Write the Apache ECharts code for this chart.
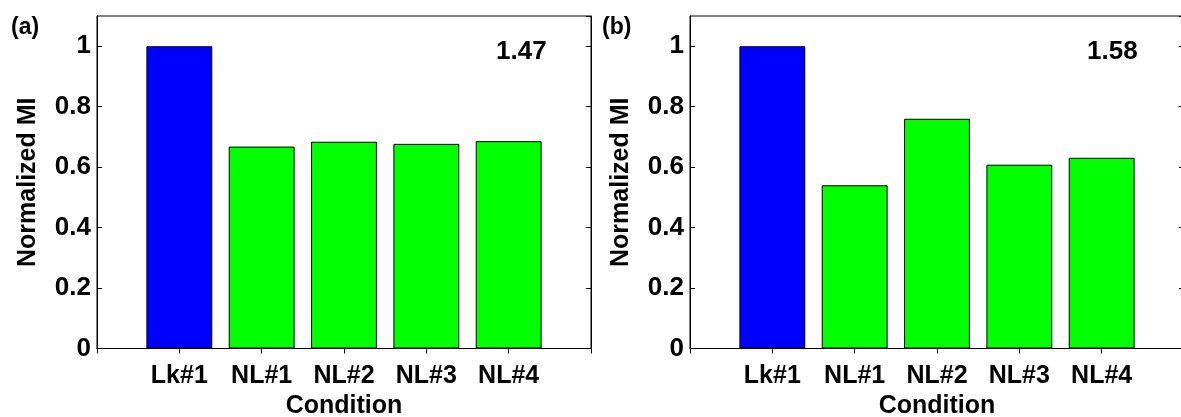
<!DOCTYPE html>
<html><head><meta charset="utf-8">
<script src="https://cdn.jsdelivr.net/npm/echarts@6/dist/echarts.min.js"></script>
<style>html,body{margin:0;padding:0;background:#fff}#c{width:1181px;height:417px}</style>
</head><body><div id="c"></div>
<script>
// ---- data ----
const categories = ['Lk#1', 'NL#1', 'NL#2', 'NL#3', 'NL#4'];
const valuesA = [1.0, 0.668, 0.684, 0.677, 0.686];
const valuesB = [1.0, 0.540, 0.760, 0.608, 0.631];
const barColors = ['#0000ff', '#00ff00', '#00ff00', '#00ff00', '#00ff00'];
const panelLabels = ['(a)', '(b)'];
const panelNotes = ['1.47', '1.58'];
const yMin = 0, yMax = 1.1, yStep = 0.2;
const yName = 'Normalized MI';
const xName = 'Condition';

// ---- chart ----
const FONT = '"Liberation Sans", Arial, Helvetica, sans-serif';
const axisData = [''].concat(categories, ['']);
function seriesData(vals) {
  return ['-'].concat(vals.map((v, i) => ({ value: v, itemStyle: { color: barColors[i] } })), ['-']);
}
const grids = [
  { left: 97, top: 16, width: 494, height: 332.5 },
  { left: 690, top: 16, width: 494, height: 332.5 }
];
const xAxes = [], yAxes = [], series = [];
const allVals = [valuesA, valuesB];
grids.forEach((g, gi) => {
  g.show = true; g.borderColor = '#000'; g.borderWidth = 1; g.backgroundColor = 'transparent';
  g.containLabel = false; g.outerBoundsMode = 'none';
  const xi = xAxes.length, yi = yAxes.length;
  xAxes.push({
    type: 'category', gridIndex: gi, data: axisData, boundaryGap: false, position: 'bottom',
    axisLine: { lineStyle: { color: '#000', width: 1 } },
    axisTick: { inside: true, length: 5, lineStyle: { color: '#000' } },
    axisLabel: { color: '#000', fontFamily: FONT, fontWeight: 'bold', fontSize: 25, margin: 15, interval: 0 },
    name: xName, nameLocation: 'middle', nameGap: 44,
    nameTextStyle: { color: '#000', fontFamily: FONT, fontWeight: 'bold', fontSize: 25 }
  });
  xAxes.push({
    type: 'category', gridIndex: gi, data: axisData, boundaryGap: false, position: 'top',
    axisLine: { lineStyle: { color: '#000', width: 1 } },
    axisTick: { inside: true, length: 5, interval: 0, lineStyle: { color: '#000' } },
    axisLabel: { show: false }
  });
  yAxes.push({
    type: 'value', gridIndex: gi, min: yMin, max: yMax, interval: yStep, position: 'left',
    splitLine: { show: false },
    axisLine: { show: true, lineStyle: { color: '#000', width: 1 } },
    axisTick: { show: true, inside: true, length: 5, lineStyle: { color: '#000' } },
    axisLabel: { color: '#000', fontFamily: FONT, fontWeight: 'bold', fontSize: 26, margin: 6, showMaxLabel: false },
    name: yName, nameLocation: 'middle', nameGap: 56,
    nameTextStyle: { color: '#000', fontFamily: FONT, fontWeight: 'bold', fontSize: 25 }
  });
  yAxes.push({
    type: 'value', gridIndex: gi, min: yMin, max: yMax, interval: yStep, position: 'right',
    splitLine: { show: false },
    axisLine: { show: true, lineStyle: { color: '#000', width: 1 } },
    axisTick: { show: true, inside: true, length: 5, lineStyle: { color: '#000' } },
    axisLabel: { show: false }
  });
  series.push({
    type: 'bar', xAxisIndex: xi, yAxisIndex: yi, barWidth: '80%',
    data: seriesData(allVals[gi]),
    itemStyle: { borderColor: '#000', borderWidth: 1 },
    animation: false
  });
});

const graphic = [];
const labelPos = [[11, 16], [602, 16]];
const notePos = [[496, 39], [1087, 39]];
panelLabels.forEach((t, i) => graphic.push({
  type: 'text', left: labelPos[i][0], top: labelPos[i][1],
  style: { text: t, fill: '#000', font: 'bold 23px ' + FONT }
}));
panelNotes.forEach((t, i) => graphic.push({
  type: 'text', left: notePos[i][0], top: notePos[i][1],
  style: { text: t, fill: '#000', font: 'bold 26px ' + FONT }
}));

const chart = echarts.init(document.getElementById('c'), null, { renderer: 'canvas' });
chart.setOption({
  animation: false,
  grid: grids, xAxis: xAxes, yAxis: yAxes, series: series, graphic: graphic
});
</script></body></html>
